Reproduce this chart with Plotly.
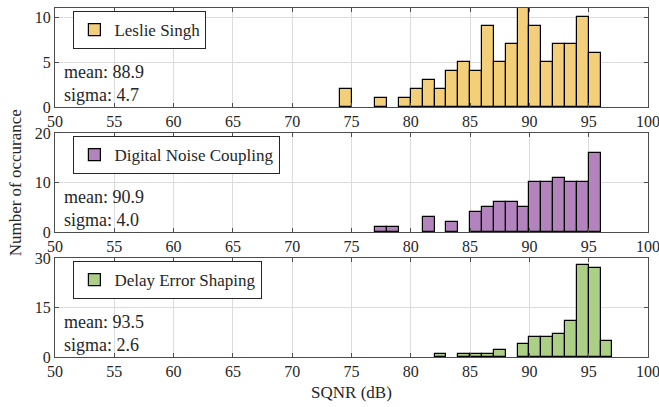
import plotly.graph_objects as go
from plotly.subplots import make_subplots

# Data (bin left edges, bin width 1 dB) and counts
ls_bins = [74, 77, 79, 80, 81, 82, 83, 84, 85, 86, 87, 88, 89, 90, 91, 92, 93, 94, 95]
ls_counts = [2, 1, 1, 2, 3, 2, 4, 5, 4, 9, 5, 7, 11, 9, 5, 7, 7, 10, 6]

dn_bins = [77, 78, 81, 83, 85, 86, 87, 88, 89, 90, 91, 92, 93, 94, 95]
dn_counts = [1, 1, 3, 2, 4, 5, 6, 6, 5, 10, 10, 11, 10, 10, 16]

de_bins = [82, 84, 85, 86, 87, 89, 90, 91, 92, 93, 94, 95, 96]
de_counts = [1, 1, 1, 1, 2, 4, 6, 6, 7, 11, 28, 27, 5]

series_names = ["Leslie Singh", "Digital Noise Coupling", "Delay Error Shaping"]
series_colors = ["#F3CF7A", "#B383BD", "#ABCF85"]
means = ["88.9", "90.9", "93.5"]
sigmas = ["4.7", "4.0", "2.6"]
y_ranges = [[0, 11], [0, 20], [0, 30]]
y_ticks = [[0, 5, 10], [0, 10, 20], [0, 15, 30]]
x_ticks = list(range(50, 101, 5))

bins_all = [ls_bins, dn_bins, de_bins]
counts_all = [ls_counts, dn_counts, de_counts]

FONT = "Liberation Serif, DejaVu Serif, serif"

fig = make_subplots(rows=3, cols=1, vertical_spacing=0.0745)

legend_keys = ["legend", "legend2", "legend3"]
legend_tops = [0.991, 0.633, 0.275]

for i in range(3):
    centers = [b + 0.5 for b in bins_all[i]]
    fig.add_trace(go.Bar(
        x=centers, y=counts_all[i], width=1.0,
        name=series_names[i],
        marker=dict(color=series_colors[i], line=dict(color="black", width=1.2)),
        legend=legend_keys[i], showlegend=True,
    ), row=i + 1, col=1)

domains = [[0.7163, 1.0], [0.3582, 0.6418], [0.0, 0.2837]]

layout_upd = {}
for i in range(3):
    ax = "" if i == 0 else str(i + 1)
    layout_upd["xaxis" + ax] = dict(
        range=[50, 100], tickvals=x_ticks, showgrid=True, gridcolor="#DCDCDC",
        gridwidth=1, showline=True, linecolor="#4D4D4D", linewidth=1, mirror="allticks",
        ticks="inside", ticklen=4, tickcolor="#4D4D4D", zeroline=False,
        ticklabeloverflow="allow", automargin=False,
        tickfont=dict(family=FONT, size=16, color="#262626"),
    )
    layout_upd["yaxis" + ax] = dict(
        range=y_ranges[i], tickvals=y_ticks[i], domain=domains[i], showgrid=True,
        gridcolor="#DCDCDC", gridwidth=1, showline=True, linecolor="#4D4D4D", linewidth=1,
        mirror="allticks", ticks="inside", ticklen=4, tickcolor="#4D4D4D", zeroline=False,
        automargin=False,
        tickfont=dict(family=FONT, size=16, color="#262626"),
    )
    layout_upd[legend_keys[i]] = dict(
        x=0.031, y=legend_tops[i], xanchor="left", yanchor="top",
        bgcolor="white", bordercolor="#262626", borderwidth=1,
        font=dict(family=FONT, size=17, color="#262626"),
        itemwidth=30, tracegroupgap=0,
    )

fig.update_layout(**layout_upd)
fig.update_xaxes(title_text="SQNR (dB)", title_font=dict(family=FONT, size=17, color="#262626"),
                 title_standoff=6, row=3, col=1)

for i in range(3):
    ax = "" if i == 0 else str(i + 1)
    fig.add_annotation(
        xref="x" + ax + " domain", yref="y" + ax + " domain", x=0.012, y=0.0,
        xanchor="left", yanchor="bottom", align="left", showarrow=False,
        text="mean: " + means[i] + "<br>sigma: " + sigmas[i],
        font=dict(family=FONT, size=18, color="#262626"),
    )

fig.add_annotation(
    xref="paper", yref="paper", x=-0.066, y=0.5, xanchor="center", yanchor="middle",
    text="Number of occurance", textangle=-90, showarrow=False,
    font=dict(family=FONT, size=17, color="#262626"),
)

fig.update_layout(
    width=659, height=407, margin=dict(l=55, r=11, t=8, b=50),
    paper_bgcolor="white", plot_bgcolor="white", bargap=0,
)

fig.write_html("out.html")
